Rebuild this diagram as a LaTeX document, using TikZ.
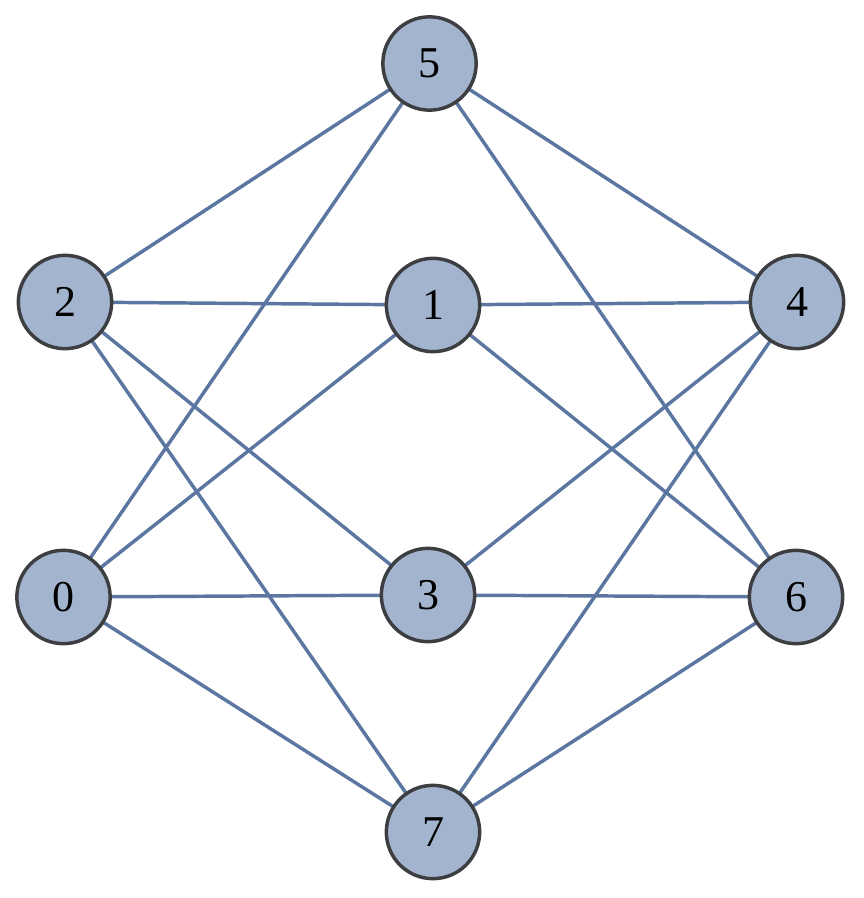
\documentclass[tikz,border=0pt]{standalone}
\usepackage{fontspec}
\setmainfont{Liberation Serif}
\usetikzlibrary{backgrounds}
\definecolor{nodefill}{HTML}{A3B4CE}
\definecolor{nodeborder}{HTML}{3C3E42}
\definecolor{edgecol}{HTML}{5B76A0}
\begin{document}
\begin{tikzpicture}[x=0.75pt,y=-0.75pt,
  vert/.style={circle,draw=nodeborder,fill=nodefill,line width=2.6pt,minimum size=70pt,inner sep=0pt,font=\fontsize{33}{36}\selectfont},
  edge/.style={draw=edgecol,line width=2.6pt}]
\useasboundingbox (0,0) rectangle (863,898);
\node[vert] (n5) at (429.5,63.5) {5};
\node[vert] (n2) at (65,302) {2};
\node[vert] (n1) at (433,305) {1};
\node[vert] (n4) at (797,302) {4};
\node[vert] (n0) at (63.5,597) {0};
\node[vert] (n3) at (428,595) {3};
\node[vert] (n6) at (796,597) {6};
\node[vert] (n7) at (433,832) {7};
\begin{scope}[on background layer]
\foreach \a/\b in {n2/n5,n2/n1,n2/n3,n2/n7,n0/n5,n0/n1,n0/n3,n0/n7,n5/n4,n5/n6,n1/n4,n1/n6,n4/n3,n4/n7,n3/n6,n6/n7}
  \draw[edge] (\a.center) -- (\b.center);
\end{scope}
\end{tikzpicture}
\end{document}
